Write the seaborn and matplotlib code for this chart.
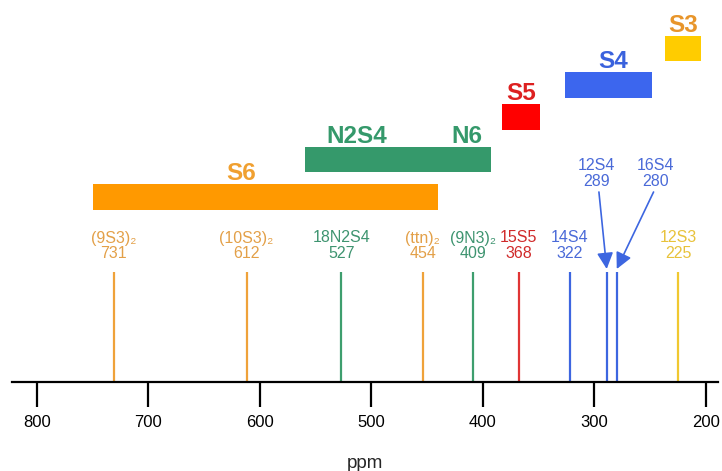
import numpy as np
import matplotlib
matplotlib.use("Agg")
import matplotlib.pyplot as plt
import seaborn as sns

# chemical shift ranges for each donor set (ppm)
range_names = ["S6", "N2S4", "S5", "S4", "S3"]
range_start = [750, 560, 383, 326, 237]
range_end = [440, 393, 349, 248, 204]

# individual complexes (ppm)
peak_names = ["(9S3)₂", "(10S3)₂", "18N2S4", "(ttn)₂", "(9N3)₂",
              "15S5", "14S4", "12S4", "16S4", "12S3"]
peak_ppm = [731, 612, 527, 454, 409, 368, 322, 289, 280, 225]

ticks = [800, 700, 600, 500, 400, 300, 200]

# styling / layout (pixel rows from the top, ylim is inverted)
bar_colors = ["#FF9900", "#35996B", "#FF0000", "#3C66EE", "#FFCC00"]
bar_text_colors = ["#F0A030", "#35996B", "#DD2020", "#3A62DD", "#E8952A"]
bar_rows = [197, 159.5, 117, 85, 48.5]
bar_label_frac = [0.43, 0.28, 0.5, 0.55, 0.5]
peak_colors = ["#EFA23A", "#EFA23A", "#3E9E6E", "#EFA23A", "#3E9E6E",
               "#E03535", "#3D66E0", "#3D66E0", "#3D66E0", "#F0C830"]
peak_text_colors = ["#E3A048", "#E3A048", "#3E9470", "#E3A048", "#3E9470",
                    "#D02A2A", "#4A6AD8", "#4A6AD8", "#4A6AD8", "#E8C23A"]

sns.set_style("white")
plt.rcParams["font.family"] = ["Liberation Sans", "DejaVu Sans"]

fig = plt.figure(figsize=(7.22, 4.71), dpi=100)
ax = fig.add_axes([12 / 722, (471 - 382) / 471, 706 / 722, 382 / 471])
ax.set_xlim(822.4, 189.2)
ax.set_ylim(382, 0)

# range bars
for i, name in enumerate(range_names):
    s, e = range_start[i], range_end[i]
    ax.barh(bar_rows[i], e - s, left=s, height=25.5, color=bar_colors[i], linewidth=0)
    top = bar_rows[i] - 12.75
    if name == "N2S4":
        ax.text(s - 0.28 * (s - e), top - 4, "N2S4", color=bar_text_colors[i],
                ha="center", va="baseline", fontsize=17.5, fontweight="bold")
        ax.text(s - 0.87 * (s - e), top - 4, "N6", color=bar_text_colors[i],
                ha="center", va="baseline", fontsize=17.5, fontweight="bold")
    else:
        ax.text(s - bar_label_frac[i] * (s - e), top - 4, name, color=bar_text_colors[i],
                ha="center", va="baseline", fontsize=17.5, fontweight="bold")

# peak lines
ax.vlines(peak_ppm, 272, 382, colors=peak_colors, linewidth=1.6)
for name, ppm, c in zip(peak_names, peak_ppm, peak_text_colors):
    if name in ("12S4", "16S4"):
        lx = ppm + 9 if name == "12S4" else ppm - 35
        ax.text(lx, 166, name, color=c, ha="center", va="center", fontsize=11.5)
        ax.text(lx, 182, str(ppm), color=c, ha="center", va="center", fontsize=11.5)
        ax.annotate("", xy=(ppm, 269), xytext=(lx - 2 if name == "12S4" else lx + 2, 192),
                    arrowprops=dict(arrowstyle="-|>,head_width=0.35,head_length=0.7",
                                    color="#3D66E0", lw=1.2,
                                    mutation_scale=14, shrinkA=0, shrinkB=0))
    else:
        ax.text(ppm, 238, name, color=c, ha="center", va="center", fontsize=11.5)
        ax.text(ppm, 254, str(ppm), color=c, ha="center", va="center", fontsize=11.5)

# axis
sns.despine(ax=ax, left=True, top=True, right=True)
ax.spines["bottom"].set_linewidth(1.6)
ax.spines["bottom"].set_color("black")
ax.set_yticks([])
ax.set_xticks(ticks)
ax.tick_params(axis="x", direction="out", length=18, width=1.6, pad=6,
               labelsize=12, colors="black", bottom=True)
ax.set_xlabel("ppm", fontsize=13.5, labelpad=18)
ax.patch.set_alpha(0)

fig.savefig("out.png", dpi=100)
